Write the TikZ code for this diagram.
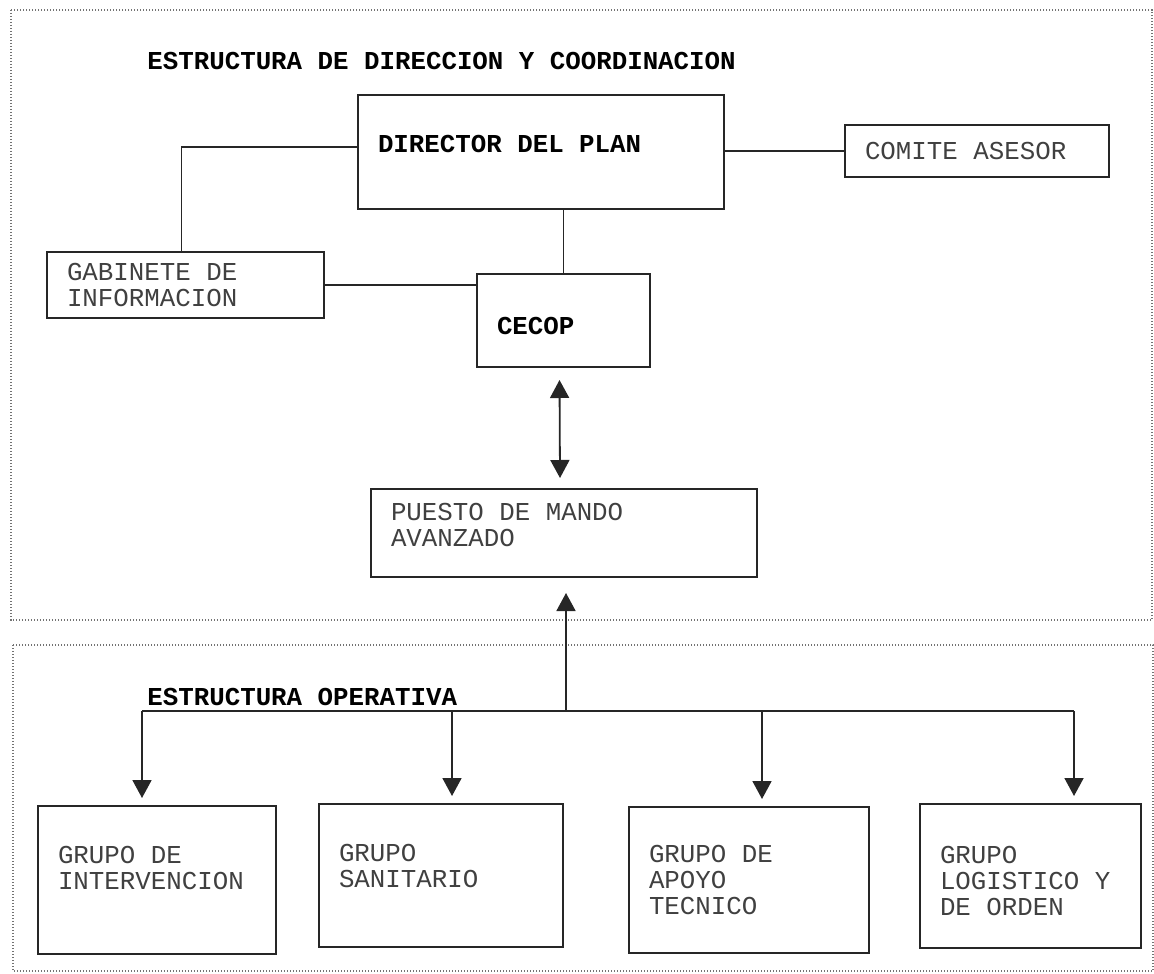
\documentclass[tikz,border=0pt]{standalone}
\usepackage{fontspec}
\setmonofont{Liberation Mono}
\usepackage{tikz}
\usetikzlibrary{arrows.meta}

\begin{document}
\begin{tikzpicture}[x=0.5pt,y=-0.5pt,
  >={Triangle[width=9.5pt,length=9pt]},
  every node/.style={font=\ttfamily\fontsize{12.9}{13}\selectfont},
  box/.style 2 args={draw=black!85,line width=1pt,anchor=north west,align=flush left,
    inner xsep=10pt,text=black!75,text width=#1,minimum height=#2},
  bold/.style={font=\ttfamily\bfseries\fontsize{12.9}{13}\selectfont,text=black},
  head/.style={anchor=west,inner sep=0pt,bold},
  frame/.style={draw=black!55,line width=0.7pt,dash pattern=on 0.6pt off 0.9pt},
  link/.style={draw=black!85,line width=0.9pt}]

\useasboundingbox (0,0) rectangle (1154,973);

%dotted frames
\draw[frame] (11,10) rectangle (1152,620);
\draw[frame] (13,645) rectangle (1153,971);

%direccion y coordinacion
\node[head] (tdir) at (147,61) {ESTRUCTURA DE DIRECCION Y COORDINACION};

\node[box={163pt}{57pt},bold,text depth=8pt] (dir) at (357,94) {DIRECTOR DEL PLAN};
\node[box={112pt}{26pt}] (comite) at (844,124) {COMITE ASESOR};
\node[box={118.5pt}{33pt}] (gab) at (46,251) {GABINETE DE\\INFORMACION};
\node[box={66.5pt}{46.5pt},bold,text height=14pt] (cecop) at (476,273) {CECOP};
\node[box={173pt}{44pt},text depth=21pt] (pma) at (370,488) {PUESTO DE MANDO\\AVANZADO};

\draw[link] (dir.east |- comite.west) -- (comite.west);
\draw[link] ([yshift=2.5pt]dir.west) -| ([xshift=-2pt]gab.north);
\draw[link] (cecop.north |- dir.south) -- (cecop.north);
\draw[link] (gab.east) -- (gab.east -| cecop.west);
\draw[link,<->] ([xshift=-2pt,yshift=-6pt]cecop.south) -- ([xshift=-2pt,yshift=5pt]pma.north);

%estructura operativa
\node[head] (top) at (147,697) {ESTRUCTURA OPERATIVA};

\node[box={99pt}{74pt},text depth=25pt] (g1) at (37,805) {GRUPO DE\\INTERVENCION};
\node[box={102pt}{71.5pt},text depth=23pt] (g2) at (318,803) {GRUPO\\SANITARIO};
\node[box={100pt}{73pt}] (g3) at (628,806) {GRUPO DE\\APOYO\\TECNICO};
\node[box={90.5pt}{72pt},text depth=21pt] (g4) at (919,803) {GRUPO\\LOGISTICO Y\\DE ORDEN};

\coordinate (hub) at (566,711);
\draw[link,->,shorten >=7.5pt] (hub) -- (hub |- pma.south);

\foreach \g/\x in {g1/142,g2/452,g3/762,g4/1074}{
  \coordinate (b\g) at (\x,711);
  \draw[link,->,shorten >=3.5pt] (b\g) -- (b\g |- \g.north);
}
\draw[link] (bg1) -- (bg4);

\end{tikzpicture}
\end{document}
